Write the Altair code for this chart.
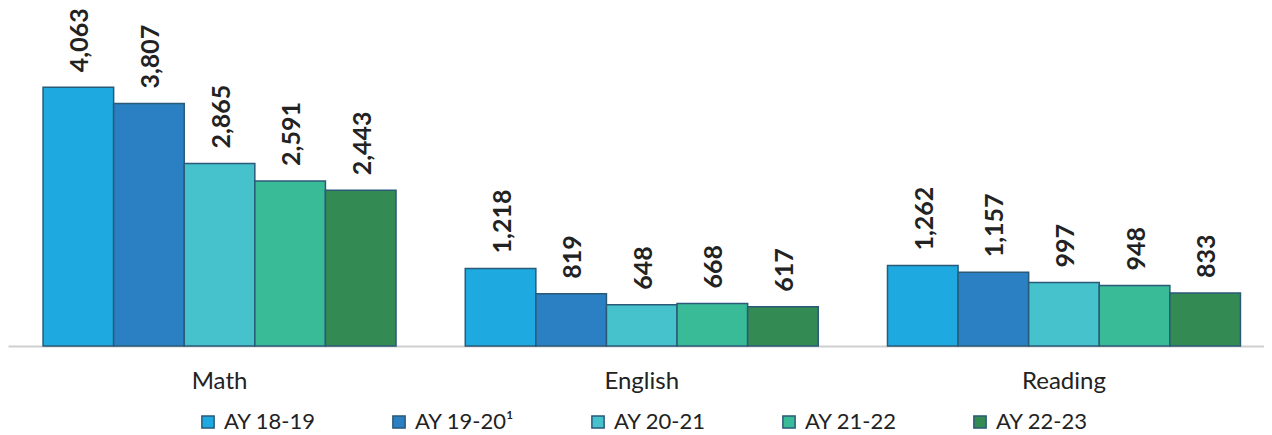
import altair as alt
import pandas as pd

subjects = ["Math", "English", "Reading"]
years = ["AY 18-19", "AY 19-20\u00b9", "AY 20-21", "AY 21-22", "AY 22-23"]
math_vals = [4063, 3807, 2865, 2591, 2443]
english_vals = [1218, 819, 648, 668, 617]
reading_vals = [1262, 1157, 997, 948, 833]
colors = ["#1EAAE0", "#2A80C2", "#45C2CC", "#3ABB97", "#348A53"]

rows = []
for subj, vals in zip(subjects, [math_vals, english_vals, reading_vals]):
    for yr, v in zip(years, vals):
        rows.append({"Subject": subj, "Year": yr, "Value": v})
df = pd.DataFrame(rows)

FONT = "Lato"

x = alt.X("Subject:N", sort=subjects,
          scale=alt.Scale(paddingInner=0.164, paddingOuter=0.083, range=[0, 1267.5]),
          axis=alt.Axis(title=None, labelAngle=0, ticks=False, labelPadding=23,
                        labelFontSize=24, labelColor="#222222", labelFont=FONT,
                        domainColor="#CFCFCF", domainWidth=2))
xo = alt.XOffset("Year:N", sort=years, scale=alt.Scale(paddingInner=0, paddingOuter=0))
y = alt.Y("Value:Q", scale=alt.Scale(domain=[0, 5243], nice=False, zero=True), axis=None)

base = alt.Chart(df).encode(x=x, xOffset=xo, y=y)

bars = base.mark_bar(stroke="#2B5A78", strokeWidth=1.5).encode(
    color=alt.Color("Year:N", sort=years,
                    scale=alt.Scale(domain=years, range=colors),
                    legend=alt.Legend(title=None, orient="none", direction="horizontal",
                                      legendX=189, legendY=399,
                                      symbolType="square", symbolSize=150,
                                      symbolStrokeColor="#2B5A78", symbolStrokeWidth=1.5,
                                      labelFontSize=22, labelColor="#222222", labelFont=FONT,
                                      columnPadding=72, labelOffset=5))
)

labels = base.mark_text(angle=270, align="left", baseline="middle", dx=15, dy=2,
                        fontSize=25, fontWeight="bold", font=FONT, color="#222222").encode(
    text=alt.Text("Value:Q", format=",")
)

chart = (bars + labels).properties(
    width=1256, height=334,
    padding={"left": 0, "top": 4, "right": 0, "bottom": 89},
    autosize=alt.AutoSizeParams(type="none"),
).configure_view(stroke=None)

chart.save("out.html", embed_options={"renderer": "svg", "actions": False})
